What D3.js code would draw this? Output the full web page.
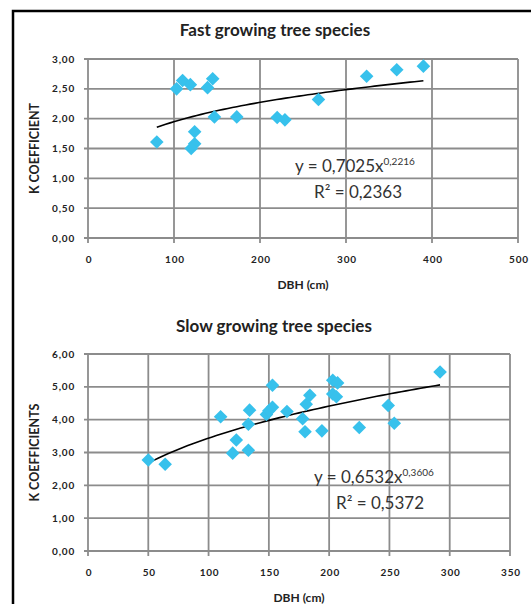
<!DOCTYPE html>
<html>
<head>
<meta charset="utf-8">
<script src="https://cdn.jsdelivr.net/npm/d3@7"></script>
<style>
body { margin: 0; background: #fff; }
svg { display: block; }
text { font-family: Lato, "Open Sans", sans-serif; fill: #222; }
</style>
</head>
<body>
<div id="chart"></div>
<script>
// values
const fastDBH = [80, 103, 110, 119, 139, 145, 147, 173, 124, 124, 120, 220, 229, 268, 324, 359, 390];
const fastK = [1.61, 2.50, 2.64, 2.57, 2.52, 2.67, 2.03, 2.03, 1.78, 1.58, 1.50, 2.02, 1.98, 2.32, 2.71, 2.82, 2.88];
const fastXTicks = [0, 100, 200, 300, 400, 500];
const fastYTicks = [0, 0.5, 1, 1.5, 2, 2.5, 3];

const slowDBH = [50, 64, 110, 120, 123, 133, 133, 134, 148, 150, 153, 153, 165, 178, 180, 181, 184, 194, 203, 203, 206, 207, 225, 249, 254, 292];
const slowK = [2.77, 2.64, 4.09, 2.98, 3.38, 3.07, 3.86, 4.29, 4.16, 4.27, 4.38, 5.05, 4.25, 4.03, 3.63, 4.47, 4.74, 3.66, 5.20, 4.78, 4.70, 5.12, 3.76, 4.43, 3.89, 5.45];
const slowXTicks = [0, 50, 100, 150, 200, 250, 300, 350];
const slowYTicks = [0, 1, 2, 3, 4, 5, 6];

// power trendlines as printed on the chart: y = a * x^b
const fastFit = { a: 0.7025, b: 0.2216, aText: "0,7025", bText: "0,2216", r2Text: "0,2363" };
const slowFit = { a: 0.6532, b: 0.3606, aText: "0,6532", bText: "0,3606", r2Text: "0,5372" };

const width = 531, height = 604;
const gridColor = "#8c8c8c";
const markerColor = "#37c1ec";

const fmt = d3.formatLocale({ decimal: ",", thousands: ".", grouping: [3], currency: ["", ""] }).format(".2f");

const svg = d3.select("#chart").append("svg")
    .attr("width", width)
    .attr("height", height);

// outer frame, cut off on the right and bottom
svg.append("rect")
    .attr("x", 13).attr("y", 11)
    .attr("width", 700).attr("height", 800)
    .attr("fill", "none")
    .attr("stroke", "#000")
    .attr("stroke-width", 2.5);

function drawPanel(p) {
    const x = d3.scaleLinear().domain([p.xTicks[0], p.xTicks[p.xTicks.length - 1]]).range([p.left, p.right]);
    const y = d3.scaleLinear().domain([p.yTicks[0], p.yTicks[p.yTicks.length - 1]]).range([p.bottom, p.top]);
    const g = svg.append("g");

    g.append("text")
        .attr("x", p.titleX).attr("y", p.titleY)
        .attr("text-anchor", "middle")
        .attr("font-size", 17).attr("font-weight", "bold")
        .text(p.title);

    // grid + ticks
    g.selectAll(".vg").data(p.xTicks).enter().append("line")
        .attr("x1", d => x(d)).attr("x2", d => x(d))
        .attr("y1", p.top).attr("y2", p.bottom + 5)
        .attr("stroke", gridColor).attr("stroke-width", 1.8);
    g.selectAll(".hg").data(p.yTicks).enter().append("line")
        .attr("x1", p.left - 4).attr("x2", p.right)
        .attr("y1", d => y(d)).attr("y2", d => y(d))
        .attr("stroke", gridColor).attr("stroke-width", 1.8);

    g.selectAll(".yl").data(p.yTicks).enter().append("text")
        .attr("x", p.left - 13).attr("y", d => y(d) + 3.5)
        .attr("text-anchor", "end")
        .attr("font-size", 10).attr("font-weight", "bold")
        .attr("letter-spacing", 0.8)
        .text(d => fmt(d));
    g.selectAll(".xl").data(p.xTicks).enter().append("text")
        .attr("x", d => x(d) + 1).attr("y", p.bottom + 25)
        .attr("text-anchor", "middle")
        .attr("font-size", 10).attr("font-weight", "bold")
        .attr("letter-spacing", 0.8)
        .text(d => d);

    g.append("text")
        .attr("x", (p.left + p.right) / 2).attr("y", p.bottom + 51)
        .attr("text-anchor", "middle")
        .attr("font-size", 12).attr("font-weight", "bold")
        .text("DBH (cm)");
    g.append("text")
        .attr("transform", `translate(39,${(p.top + p.bottom) / 2}) rotate(-90)`)
        .attr("text-anchor", "middle")
        .attr("font-size", 12.5).attr("font-weight", "bold")
        .text(p.yTitle);

    // trendline over the span of the data
    const ext = d3.extent(p.xs);
    const fitX = d3.range(ext[0], ext[1] + 0.1, (ext[1] - ext[0]) / 60);
    g.append("path")
        .datum(fitX)
        .attr("fill", "none")
        .attr("stroke", "#000")
        .attr("stroke-width", 1.6)
        .attr("d", d3.line().x(d => x(d)).y(d => y(p.fit.a * Math.pow(d, p.fit.b))));

    // diamonds
    const r = 6.8;
    g.selectAll(".pt").data(p.xs.map((d, i) => [d, p.ys[i]])).enter().append("path")
        .attr("d", `M0,${-r}L${r},0L0,${r}L${-r},0Z`)
        .attr("transform", d => `translate(${x(d[0])},${y(d[1])})`)
        .attr("fill", markerColor);

    const eq = g.append("text")
        .attr("x", p.eqX).attr("y", p.eqY)
        .attr("font-size", 17).style("fill", "#333");
    eq.append("tspan").text(`y = ${p.fit.aText}x`);
    eq.append("tspan").attr("dy", -7).attr("font-size", 10).text(p.fit.bText);
    g.append("text")
        .attr("x", p.r2X).attr("y", p.eqY + 26)
        .attr("font-size", 17).style("fill", "#333")
        .text(`R² = ${p.fit.r2Text}`);
}

drawPanel({
    title: "Fast growing  tree species", titleX: 275, titleY: 36,
    yTitle: "K COEFFICIENT",
    left: 88, right: 518, top: 59, bottom: 238,
    xTicks: fastXTicks, yTicks: fastYTicks,
    xs: fastDBH, ys: fastK, fit: fastFit,
    eqX: 295, eqY: 172, r2X: 314
});

drawPanel({
    title: "Slow growing  tree species", titleX: 274, titleY: 332,
    yTitle: "K COEFFICIENTS",
    left: 88, right: 510, top: 354, bottom: 551,
    xTicks: slowXTicks, yTicks: slowYTicks,
    xs: slowDBH, ys: slowK, fit: slowFit,
    eqX: 314, eqY: 483, r2X: 336
});
</script>
</body>
</html>
